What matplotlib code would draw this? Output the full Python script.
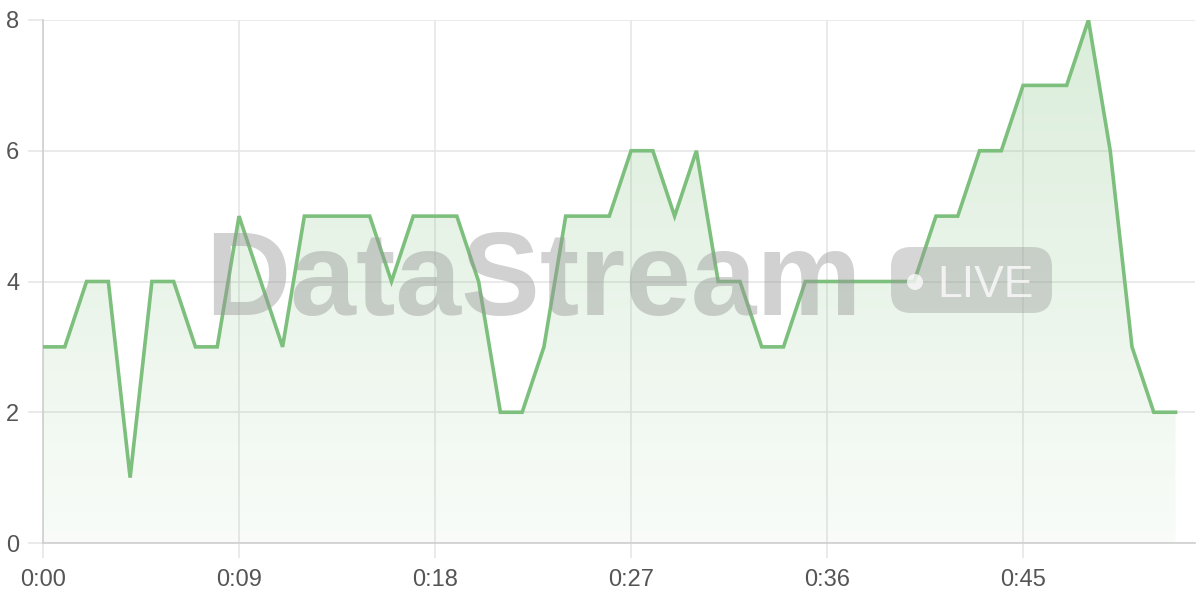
import numpy as np
import matplotlib
matplotlib.use("Agg")
import matplotlib.pyplot as plt
from matplotlib.patches import FancyBboxPatch, Circle

# values per minute, 0:00 .. 0:52
minutes = list(range(53))
counts = [3, 3, 4, 4, 1, 4, 4, 3, 3, 5,
          4, 3, 5, 5, 5, 5, 4, 5, 5, 5,
          4, 2, 2, 3, 5, 5, 5, 6, 6, 5,
          6, 4, 4, 3, 3, 4, 4, 4, 4, 4,
          4, 5, 5, 6, 6, 7, 7, 7, 8, 6,
          3, 2, 2]
tick_minutes = [0, 9, 18, 27, 36, 45]
tick_labels = ["0:00", "0:09", "0:18", "0:27", "0:36", "0:45"]
y_ticks = [0, 2, 4, 6, 8]

line_color = "#7dbf7d"
grid_color = "#e6e6e6"
axis_color = "#cfcfcf"
label_color = "#555555"

plt.rcParams["font.family"] = ["Liberation Sans", "DejaVu Sans"]

fig = plt.figure(figsize=(12, 6), dpi=100)
ax = fig.add_axes([43 / 1200, 57 / 600, (1195 - 43) / 1200, 523 / 600])

ax.set_xlim(0, (1195 - 43) / 21.78)
ax.set_ylim(0, 8)

# gradient fill under the line
fill = ax.fill_between(minutes, counts, 0, color="none", lw=0)
grad = np.linspace(0.28, 0.05, 256).reshape(-1, 1)
rgba = np.zeros((256, 1, 4))
rgba[..., 0] = 0.49
rgba[..., 1] = 0.75
rgba[..., 2] = 0.49
rgba[..., 3] = grad
img = ax.imshow(rgba, extent=[0, 52, 0, 8], aspect="auto", origin="upper", zorder=1)
img.set_clip_path(fill.get_paths()[0], transform=ax.transData)

ax.plot(minutes, counts, color=line_color, lw=2.6, zorder=4, solid_joinstyle="miter")

# watermark (positions in inches, 100 px per inch)
fig.text(205 / 1200, 1 - 315 / 600, "DataStream", fontsize=85, fontweight="bold",
         color="#999999", alpha=0.45, ha="left", va="baseline", zorder=3)
badge = FancyBboxPatch((8.91, 6 - 3.13), 1.61, 0.66,
                       boxstyle="round,pad=0,rounding_size=0.2",
                       transform=fig.dpi_scale_trans, facecolor="#999999",
                       alpha=0.4, edgecolor="none", zorder=3)
fig.add_artist(badge)
dot = Circle((9.15, 6 - 2.82), 0.08, transform=fig.dpi_scale_trans,
             facecolor="white", alpha=0.75, edgecolor="none", zorder=3)
fig.add_artist(dot)
fig.text(937 / 1200, 1 - 297 / 600, "LIVE", fontsize=32, color="white",
         alpha=0.75, ha="left", va="baseline", zorder=3)

ax.set_xticks(tick_minutes)
ax.set_xticklabels(tick_labels)
ax.set_yticks(y_ticks)
ax.grid(True, color=grid_color, lw=1.2, zorder=0)
ax.set_axisbelow(True)
ax.tick_params(axis="both", length=11, width=1.2, color=grid_color,
               labelsize=17, labelcolor=label_color)
ax.tick_params(axis="x", pad=8)
ax.tick_params(axis="y", pad=6)

for side in ["top", "right"]:
    ax.spines[side].set_visible(False)
for side in ["left", "bottom"]:
    ax.spines[side].set_color(axis_color)
    ax.spines[side].set_linewidth(1.2)

fig.savefig("out.png", dpi=100)
